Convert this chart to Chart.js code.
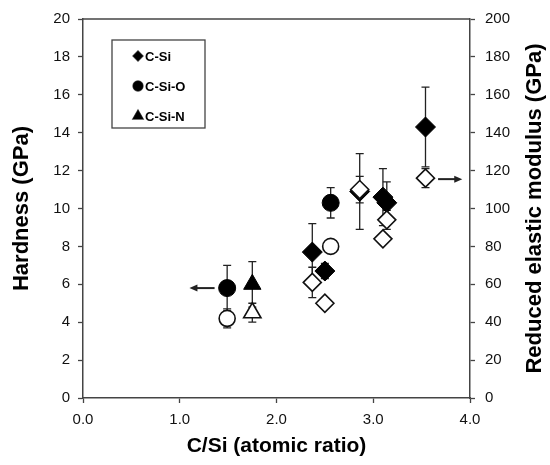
<!DOCTYPE html>
<html><head><meta charset="utf-8">
<script src="https://cdn.jsdelivr.net/npm/chart.js@4/dist/chart.umd.min.js"></script>
<style>html,body{margin:0;padding:0;background:#fff}#wrap{width:550px;height:465px;position:relative}</style>
</head><body><div id="wrap"><canvas id="c"></canvas></div>
<script>
// ---- data ----
const seriesNames = ['C-Si', 'C-Si-O', 'C-Si-N'];
const csiX = [2.37, 2.50, 2.86, 3.10, 3.14, 3.54];
const csiHardness = [7.7, 6.7, 10.9, 10.6, 10.3, 14.3];
const csiHardnessErr = [1.5, 0.4, 2.0, 1.5, 1.1, 2.1];
const csiModulus = [61, 50, 110, 84, 94, 116];
const csiModulusErr = [8, 0, 7, 0, 5, 5];
const csioX = [1.49, 2.56];
const csioHardness = [5.8, 10.3];
const csioHardnessErr = [1.2, 0.8];
const csioModulus = [42, 80];
const csioModulusErr = [5, 0];
const csinX = [1.75];
const csinHardness = [6.0];
const csinHardnessErr = [1.2];
const csinModulus = [45];
const csinModulusErr = [5];
const xTickValues = [0, 1, 2, 3, 4];
const hardnessTickValues = [0, 2, 4, 6, 8, 10, 12, 14, 16, 18, 20];
const modulusTickValues = [0, 20, 40, 60, 80, 100, 120, 140, 160, 180, 200];
const xTitle = 'C/Si (atomic ratio)';
const leftTitle = 'Hardness (GPa)';
const rightTitle = 'Reduced elastic modulus (GPa)';
// arrows pointing to the axis each group belongs to (data units)
const arrowFromX = [1.36, 3.67];
const arrowToX = [1.10, 3.92];
const arrowY = [5.8, 115.5];
const arrowAxis = ['y', 'y2'];

const FONT = "'Liberation Sans', Arial, sans-serif";
const INK = '#111';
const AXIS = '#444';

function pts(xs, ys) { return xs.map((x, i) => ({ x: x, y: ys[i] })); }

const styles = [
  { style: 'rectRot', r: 10, rOpen: 9 },
  { style: 'circle', r: 8.5, rOpen: 8 },
  { style: 'triangle', r: 10, rOpen: 10 }
];
const groups = [
  { x: csiX, h: csiHardness, he: csiHardnessErr, m: csiModulus, me: csiModulusErr },
  { x: csioX, h: csioHardness, he: csioHardnessErr, m: csioModulus, me: csioModulusErr },
  { x: csinX, h: csinHardness, he: csinHardnessErr, m: csinModulus, me: csinModulusErr }
];

const datasets = [];
// modulus (open markers, right axis) first so they are painted on top
groups.forEach((g, i) => {
  datasets.push({
    label: seriesNames[i] + ' modulus', data: pts(g.x, g.m), err: g.me, yAxisID: 'y2',
    pointStyle: styles[i].style, pointRadius: styles[i].rOpen, pointHoverRadius: styles[i].rOpen,
    backgroundColor: '#fff', borderColor: INK, pointBorderWidth: 1.6, showLine: false
  });
});
groups.forEach((g, i) => {
  datasets.push({
    label: seriesNames[i], data: pts(g.x, g.h), err: g.he, yAxisID: 'y',
    pointStyle: styles[i].style, pointRadius: styles[i].r, pointHoverRadius: styles[i].r,
    backgroundColor: '#000', borderColor: '#000', pointBorderWidth: 1, showLine: false
  });
});

const errorBars = {
  id: 'errorBars',
  beforeDatasetsDraw(chart) {
    const ctx = chart.ctx, xs = chart.scales.x;
    ctx.save();
    ctx.strokeStyle = '#222'; ctx.lineWidth = 1.3;
    chart.data.datasets.forEach(ds => {
      const ys = chart.scales[ds.yAxisID];
      ds.data.forEach((p, i) => {
        const e = ds.err[i];
        if (!e) return;
        const px = xs.getPixelForValue(p.x);
        const t = ys.getPixelForValue(p.y + e), b = ys.getPixelForValue(p.y - e);
        ctx.beginPath();
        ctx.moveTo(px, t); ctx.lineTo(px, b);
        ctx.moveTo(px - 4, t); ctx.lineTo(px + 4, t);
        ctx.moveTo(px - 4, b); ctx.lineTo(px + 4, b);
        ctx.stroke();
      });
    });
    ctx.restore();
  }
};

const extras = {
  id: 'extras',
  afterDraw(chart) {
    const ctx = chart.ctx, a = chart.chartArea, xs = chart.scales.x;
    ctx.save();
    // top frame line
    ctx.strokeStyle = AXIS; ctx.lineWidth = 1.5;
    ctx.beginPath(); ctx.moveTo(a.left, a.top); ctx.lineTo(a.right, a.top); ctx.stroke();
    // arrows
    ctx.strokeStyle = '#222'; ctx.fillStyle = '#222'; ctx.lineWidth = 2;
    arrowFromX.forEach((fx, i) => {
      const ys = chart.scales[arrowAxis[i]];
      const x0 = xs.getPixelForValue(fx), x1 = xs.getPixelForValue(arrowToX[i]);
      const y = ys.getPixelForValue(arrowY[i]);
      const dir = Math.sign(x1 - x0);
      ctx.beginPath(); ctx.moveTo(x0, y); ctx.lineTo(x1 - dir * 5, y); ctx.stroke();
      ctx.beginPath(); ctx.moveTo(x1, y); ctx.lineTo(x1 - dir * 8, y - 3.5); ctx.lineTo(x1 - dir * 8, y + 3.5); ctx.closePath(); ctx.fill();
    });
    // legend box
    ctx.strokeStyle = AXIS; ctx.lineWidth = 1.3;
    ctx.strokeRect(112, 40, 93, 88);
    ctx.fillStyle = '#000';
    ctx.font = 'bold 13px ' + FONT; ctx.textBaseline = 'middle'; ctx.textAlign = 'left';
    const legendR = [5, 5, 6];
    seriesNames.forEach((n, i) => {
      const y = 56 + i * 30;
      Chart.helpers.drawPoint(ctx, { pointStyle: styles[i].style, radius: legendR[i], borderWidth: 1 }, 138, y);
      ctx.fill();
      ctx.fillText(n, 145, y + 1);
    });
    // right-axis title reading bottom-to-top
    ctx.font = 'bold 22px ' + FONT; ctx.textAlign = 'center'; ctx.textBaseline = 'middle';
    ctx.translate(535, (a.top + a.bottom) / 2); ctx.rotate(-Math.PI / 2);
    ctx.fillText(rightTitle, 0, 0);
    ctx.restore();
  }
};

new Chart(document.getElementById('c'), {
  type: 'scatter',
  data: { datasets: datasets },
  options: {
    responsive: true, maintainAspectRatio: false, animation: false,
    layout: { padding: { top: 16, left: 0, right: 0, bottom: 0 } },
    plugins: { legend: { display: false }, tooltip: { enabled: false } },
    scales: {
      x: {
        type: 'linear', min: 0, max: 4,
        afterBuildTicks: s => { s.ticks = xTickValues.map(v => ({ value: v })); },
        afterFit: s => { s.height = 67; },
        border: { color: AXIS, width: 1.5 },
        grid: { drawOnChartArea: false, tickLength: 5, color: AXIS, tickWidth: 1.3 },
        ticks: { color: INK, font: { family: FONT, size: 15 }, padding: 8, callback: v => Number(v).toFixed(1) },
        title: { display: true, text: xTitle, color: '#000', font: { family: FONT, size: 21, weight: 'bold' }, padding: { top: 0, bottom: 6 } }
      },
      y: {
        position: 'left', min: 0, max: 20,
        afterBuildTicks: s => { s.ticks = hardnessTickValues.map(v => ({ value: v })); },
        afterFit: s => { s.width = 83; },
        border: { color: AXIS, width: 1.5 },
        grid: { drawOnChartArea: false, tickLength: 5, color: AXIS, tickWidth: 1.3 },
        ticks: { color: INK, font: { family: FONT, size: 15 }, padding: 8 },
        title: { display: true, text: leftTitle, color: '#000', font: { family: FONT, size: 22, weight: 'bold' }, padding: { top: 9, bottom: 0 } }
      },
      y2: {
        position: 'right', min: 0, max: 200,
        afterBuildTicks: s => { s.ticks = modulusTickValues.map(v => ({ value: v })); },
        afterFit: s => { s.width = 80; },
        border: { color: AXIS, width: 1.5 },
        grid: { drawOnChartArea: false, tickLength: 5, color: AXIS, tickWidth: 1.3 },
        ticks: { color: INK, font: { family: FONT, size: 15 }, padding: 10 }
      }
    }
  },
  plugins: [errorBars, extras]
});
</script></body></html>
